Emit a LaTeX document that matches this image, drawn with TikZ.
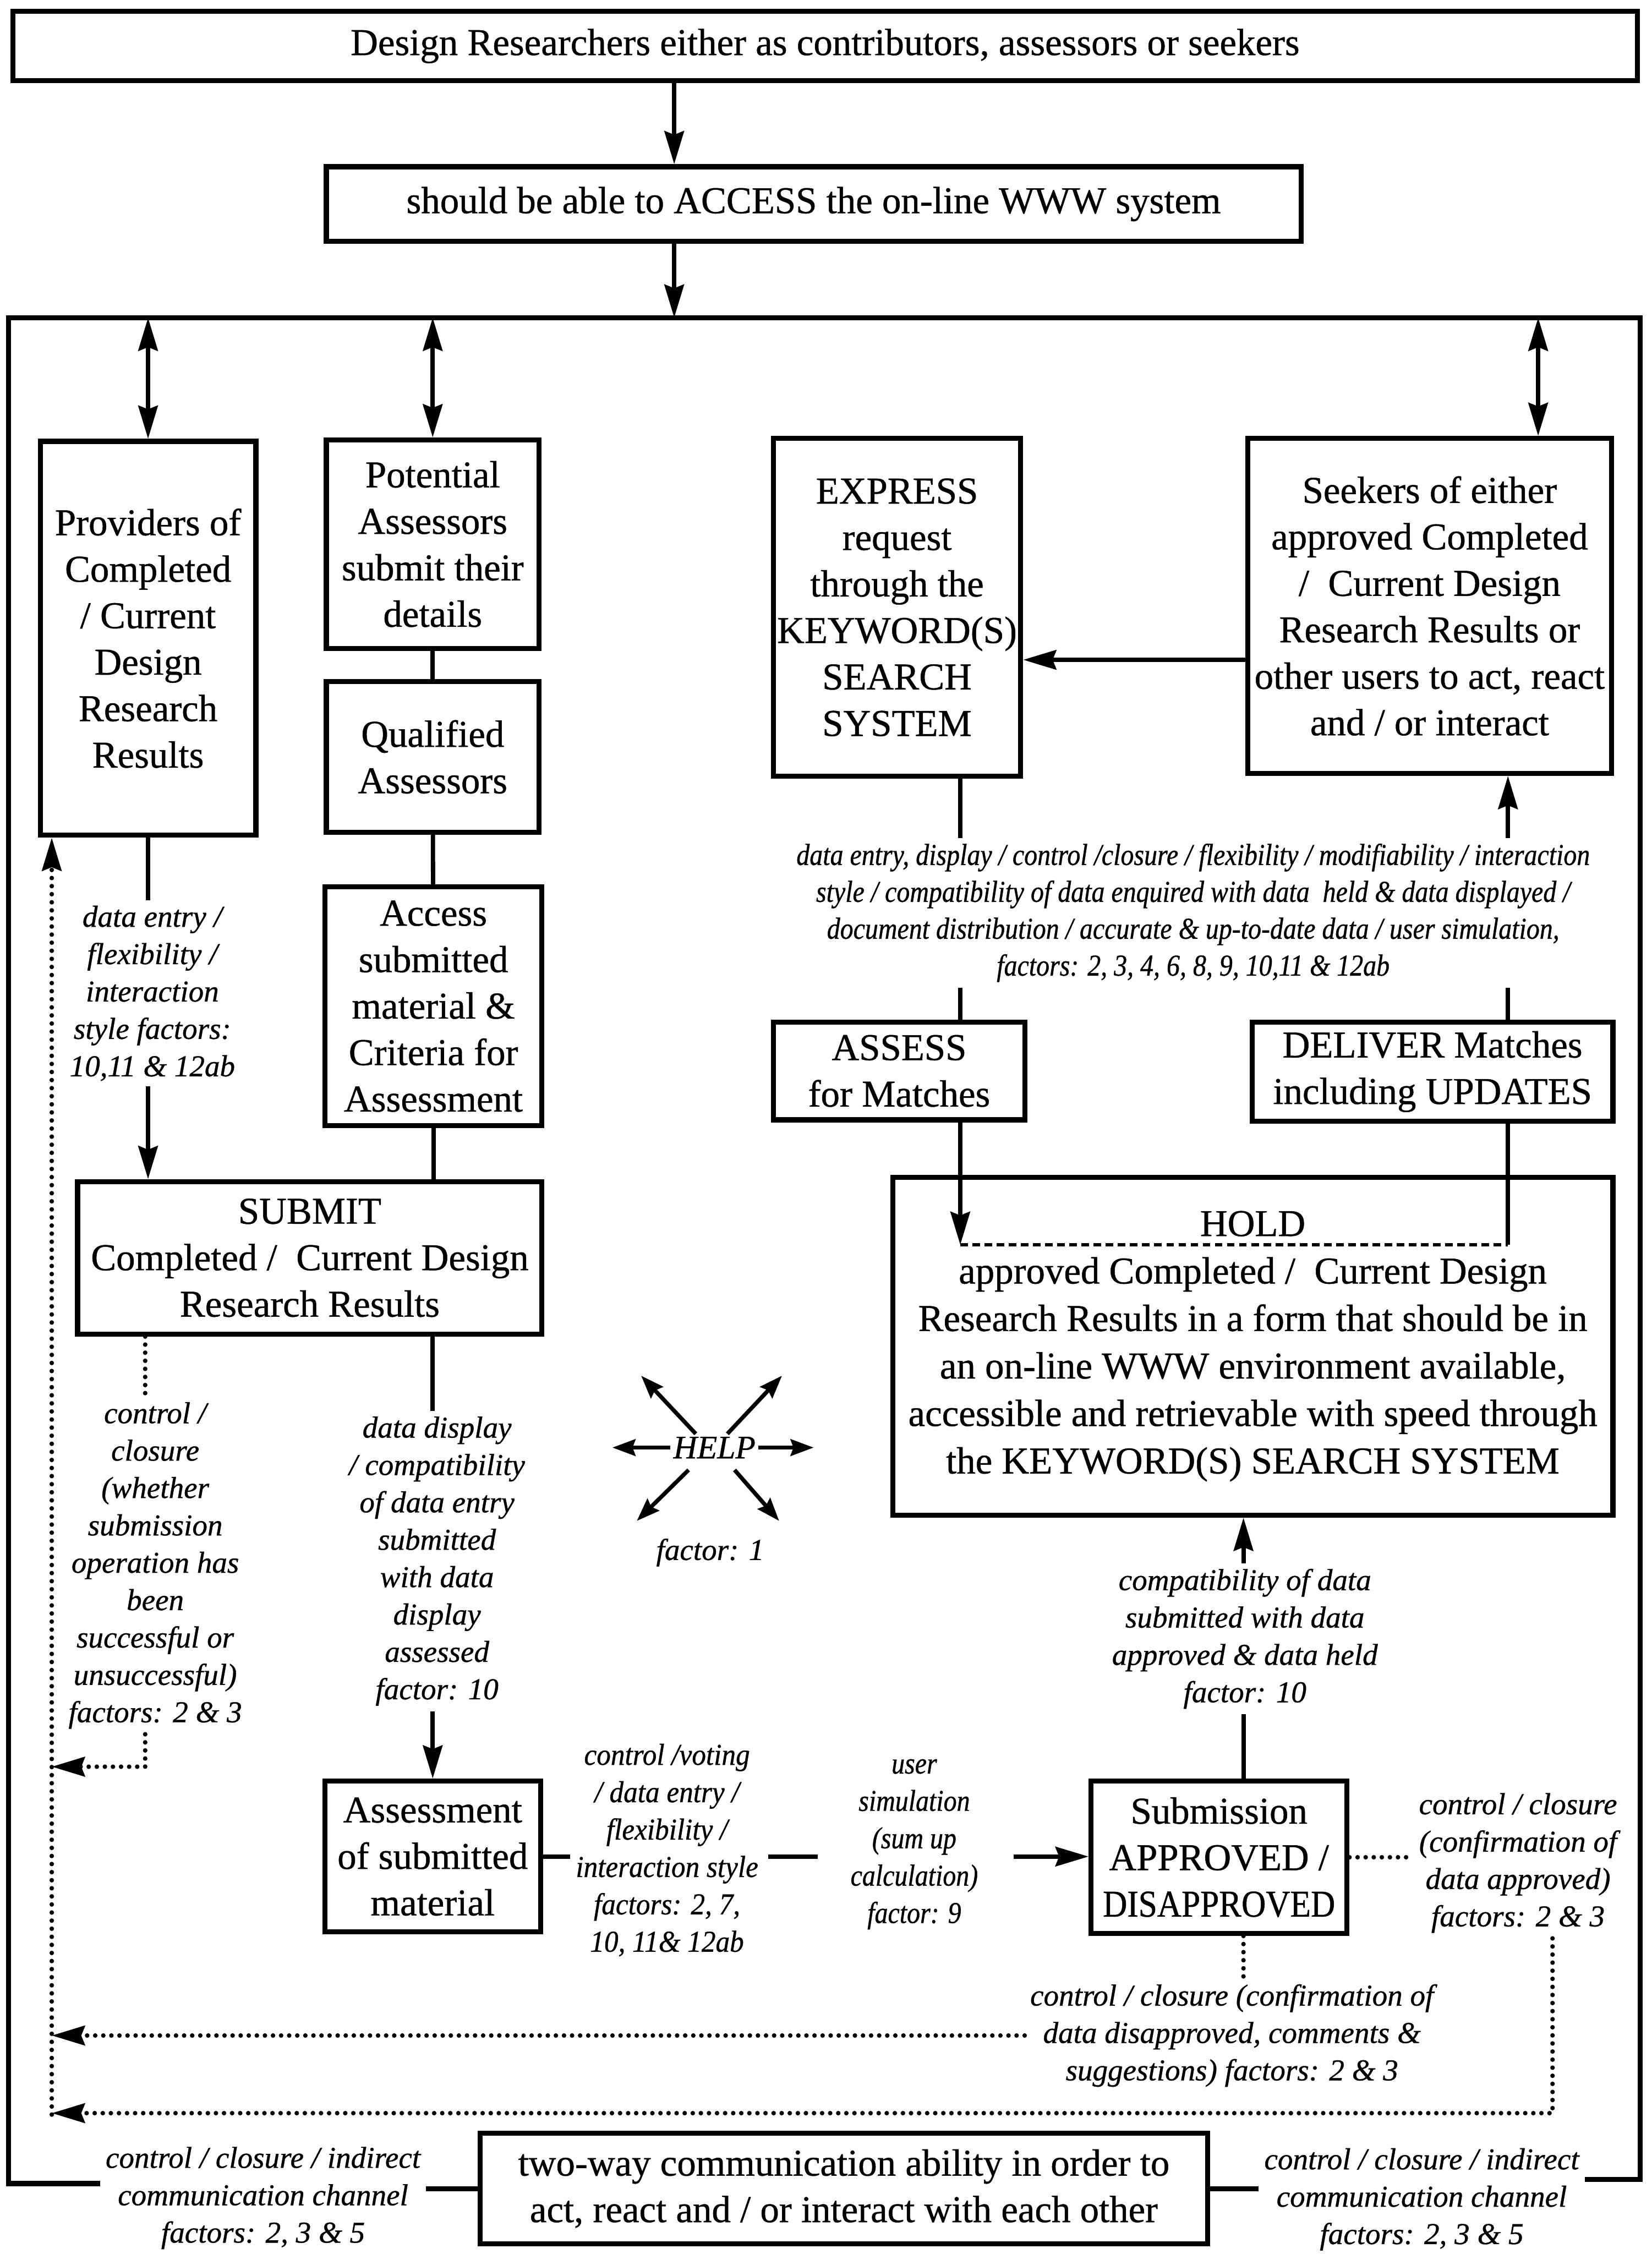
\documentclass[tikz,border=0pt]{standalone}
\usepackage{fontspec}
\usepackage{graphicx}
\setmainfont{Liberation Serif}[FakeBold=0.7]
\newfontfamily\nrwa{Liberation Serif}[FakeStretch=0.87,FakeBold=0.7]
\newfontfamily\nrwb{Liberation Serif}[FakeStretch=0.93,FakeBold=0.7]
\newfontfamily\nrwc{Liberation Serif}[FakeStretch=0.89,FakeBold=0.7]
\usetikzlibrary{arrows.meta,calc}
\newcommand\bxfont{\fontsize{15}{18.4}\selectfont}
\newcommand\lbfont{\fontsize{12}{14.8}\selectfont\itshape}
\begin{document}
\begin{tikzpicture}[x=0.02cm,y=-0.02cm,
  bx/.style={draw, line width=2pt, inner sep=1pt, align=center, font=\bxfont},
  dm/.style 2 args={minimum width=#1*0.02cm, minimum height=#2*0.02cm},
  lab/.style={align=center, inner sep=2pt, font=\lbfont},
  ln/.style={line width=1.7pt},
  frm/.style={line width=2pt},
  tip/.style={-{Stealth[length=0.46cm,width=0.27cm,inset=0.05cm]}},
  dtip/.style={{Stealth[length=0.46cm,width=0.27cm,inset=0.05cm]}-{Stealth[length=0.46cm,width=0.27cm,inset=0.05cm]}},
  htip/.style={-{Stealth[length=0.32cm,width=0.23cm,inset=0.04cm]}},
  dots/.style={line width=1.8pt, line cap=round, dash pattern=on 0pt off 3.2pt},
  dsh/.style={line width=1.4pt, dash pattern=on 3pt off 1.8pt}
]
\useasboundingbox (0,0) rectangle (1149,1568);

% ---------- boxes ----------
\node[bx, dm={1130}{48}] (top) at (574,32) {Design Researchers either as contributors, assessors or seekers};
\node[bx, dm={678}{52}] (acc) at (566,142) {should be able to ACCESS the on-line WWW system};
\node[bx, dm={150}{274}] (prov) at (103,444) {Providers of\\Completed\\/ Current\\Design\\Research\\Results};
\node[bx, dm={148}{145}] (pot) at (301,378.5) {Potential\\Assessors\\submit their\\details};
\node[bx, dm={148}{105}] (qual) at (301,526.5) {Qualified\\Assessors};
\node[bx, dm={151}{166}] (asub) at (301.5,700) {Access\\submitted\\material \&\\Criteria for\\Assessment};
\node[bx, dm={323}{106}] (sbm) at (215.5,875) {SUBMIT\\Completed /~ Current Design\\Research Results};
\node[bx, dm={172}{235}] (expr) at (624,422.5) {EXPRESS\\request\\through the\\KEYWORD(S)\\SEARCH\\SYSTEM};
\node[bx, dm={253}{233}] (seek) at (994.5,421.5) {Seekers of either\\approved Completed\\/~ Current Design\\Research Results or\\other users to act, react\\and / or interact};
\node[bx, dm={175}{68}] (ases) at (625.5,745) {ASSESS\\for Matches};
\node[bx, dm={251}{69}] (dlv) at (996.5,745.5) {DELIVER Matches\\including UPDATES};
\node[bx, dm={501}{235}, font=\fontsize{15}{18.8}\selectfont] (hold) at (871.5,936.5) {HOLD\\approved Completed /~ Current Design\\Research Results in a form that should be in\\an on-line WWW environment available,\\accessible and retrievable with speed through\\the KEYWORD(S) SEARCH SYSTEM};
\node[bx, dm={150}{105}] (asm) at (301,1291.5) {Assessment\\of submitted\\material};
\node[bx, dm={178}{106}] (sub) at (848,1292) {Submission\\APPROVED /\\{\nrwc DISAPPROVED}};
\node[bx, dm={506}{77}] (two) at (587,1522.5) {two-way communication ability in order to\\act, react and / or interact with each other};

% ---------- labels ----------
\node[lab] (lde) at (106,691) {data entry /\\flexibility /\\interaction\\style factors:\\10,11 \& 12ab};
\node[lab] (lcc) at (108,1089) {control /\\closure\\(whether\\submission\\operation has\\been\\successful or\\unsuccessful)\\factors: 2 \& 3};
\node[lab] (ldd) at (304,1086) {data display\\/ compatibility\\of data entry\\submitted\\with data\\display\\assessed\\factor: 10};
\node[lab, font=\nrwa\fontsize{12}{14.6}\selectfont\itshape] (lbig) at (830,635) {data entry, display / control /closure / flexibility / modifiability / interaction\\style / compatibility of data enquired with data~ held \& data displayed /\\document distribution / accurate \& up-to-date data / user simulation,\\factors: 2, 3, 4, 6, 8, 9, 10,11 \& 12ab};
\node[lab] (lcmp) at (866,1140) {compatibility of data\\submitted with data\\approved \& data held\\factor: 10};
\node[lab, font=\nrwb\fontsize{12}{14.8}\selectfont\itshape] (lvote) at (464,1287) {control /voting\\/ data entry /\\flexibility /\\interaction style\\factors: 2, 7,\\10, 11\& 12ab};
\node[lab, font=\nrwa\fontsize{12}{14.8}\selectfont\itshape] (luser) at (636,1283) {user\\simulation\\(sum up\\calculation)\\factor: 9};
\node[lab] (lapp) at (1056,1296) {control / closure\\(confirmation of\\data approved)\\factors: 2 \& 3};
\node[lab] (lds) at (857,1416) {control / closure (confirmation of\\data disapproved, comments \&\\suggestions) factors: 2 \& 3};
\node[lab] (cl) at (183,1529) {control / closure / indirect\\communication channel\\factors: 2, 3 \& 5};
\node[lab] (cr) at (989,1530) {control / closure / indirect\\communication channel\\factors: 2, 3 \& 5};
\node[inner sep=1pt, font=\fontsize{13}{15}\selectfont\itshape] (help) at (497,1007) {HELP};
\node[lab] (lf1) at (494,1080) {factor: 1};

% ---------- reference coordinates ----------
\coordinate (xa) at (469,0);
\coordinate (xk) at (1070,0);
\coordinate (xd) at (1049,0);
\coordinate (xe) at (668,0);
\coordinate (xs) at (865,0);
\coordinate (xc) at (101,0);
\coordinate (xr) at (36,0);
\coordinate (xq) at (1080,0);
\coordinate (ye) at (0,459);
\coordinate (y1) at (0,1229);
\coordinate (y3) at (0,1470);
\coordinate (ftl) at (6,221);
\coordinate (ftr) at (1141,221);
\coordinate (fbl) at (6,1519);
\coordinate (fbr) at (1141,1516);
\coordinate (rb) at (36,1471);
\coordinate (hA) at (668,866);
\coordinate (hB) at (1049,866);
\coordinate (hL) at (426,1007);
\coordinate (hR) at (566,1007);
\coordinate (hUL) at (446,957);
\coordinate (hUR) at (544,957);
\coordinate (hDL) at (443,1058);
\coordinate (hDR) at (542,1058);

% ---------- outer frame ----------
\draw[frm] (fbl -| cl.west) -- (fbl) -- (ftl) -- (ftr) -- (fbr) -- (fbr -| cr.east);
\draw[frm] (two.west) -- (two.west -| cl.east);
\draw[frm] (two.east) -- (two.east -| cr.west);

% ---------- top flow ----------
\draw[ln,tip] (xa |- top.south) -- (xa |- acc.north);
\draw[ln,tip] (xa |- acc.south) -- (xa |- ftl);
\draw[ln,dtip] (prov.north |- ftl) -- (prov.north);
\draw[ln,dtip] (pot.north |- ftl) -- (pot.north);
\draw[ln,dtip] (xk |- ftl) -- (xk |- seek.north);

% ---------- contributors / assessors ----------
\draw[ln] (pot) -- (qual);
\draw[ln] (qual) -- (asub);
\draw[ln] (asub.south) -- (asub.south |- sbm.north);
\draw[ln] (prov.south) -- (prov.south |- lde.north);
\draw[ln,tip] (prov.south |- lde.south) -- (prov.south |- sbm.north);
\draw[dots] (sbm.south -| xc) -- (xc |- lcc.north);
\draw[dots,tip] (xc |- lcc.south) -- (xc |- y1) -- (xr |- y1);
\draw[ln] (sbm.south -| asm.north) -- (asm.north |- ldd.north);
\draw[ln,tip] (asm.north |- ldd.south) -- (asm.north);
\draw[ln] (asm.east) -- (asm.east -| lvote.west);
\draw[ln, shorten <=0.06cm, shorten >=0.38cm] (lvote.east |- asm.east) -- (luser.west |- asm.east);
\draw[ln,tip, shorten <=0.42cm] (luser.east |- asm.east) -- (sub.west |- asm.east);

% ---------- approval feedback ----------
\draw[ln,tip] (lcmp.north -| xs) -- (hold.south -| xs);
\draw[ln] (lcmp.south -| xs) -- (sub.north -| xs);
\draw[dots] (sub.east) -- (sub.east -| lapp.west);
\draw[dots,tip] (lapp.south -| xq) -- (xq |- y3) -- (xr |- y3);
\draw[dots] (sub.south -| xs) -- (xs |- lds.north);
\draw[dots,tip] (lds.west) -- (lds.west -| xr);
\draw[dots,tip] (rb) -- (prov.south -| xr);

% ---------- seekers / search ----------
\draw[ln,tip] (seek.west |- ye) -- (expr.east |- ye);
\draw[ln] (expr.south -| xe) -- (xe |- lbig.north);
\draw[ln] (xe |- lbig.south) -- (xe |- ases.north);
\draw[ln,tip] (xd |- lbig.north) -- (xd |- seek.south);
\draw[ln] (xd |- lbig.south) -- (xd |- dlv.north);
\draw[ln,tip] (xe |- ases.south) -- (hA);
\draw[dsh] (hA) -- (hB);
\draw[ln] (xd |- dlv.south) -- (hB);

% ---------- help ----------
\draw[line width=1.6pt,htip] (help.west) -- (hL);
\draw[line width=1.6pt,htip] (help.east) -- (hR);
\draw[line width=1.6pt,htip] ([xshift=-0.26cm]help.north) -- (hUL);
\draw[line width=1.6pt,htip] ([xshift=0.18cm]help.north) -- (hUR);
\draw[line width=1.6pt,htip] ([xshift=-0.36cm,yshift=-0.12cm]help.south) -- (hDL);
\draw[line width=1.6pt,htip] ([xshift=0.28cm,yshift=-0.12cm]help.south) -- (hDR);
\end{tikzpicture}
\end{document}
